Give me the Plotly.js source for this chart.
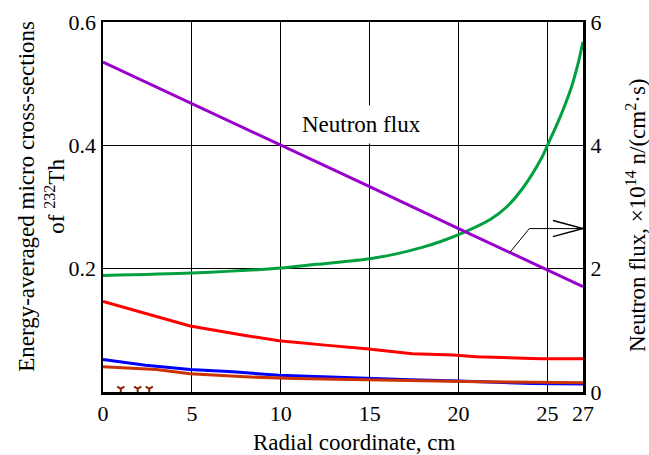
<!DOCTYPE html>
<html>
<head>
<meta charset="utf-8">
<script src="https://cdn.plot.ly/plotly-3.0.1.min.js"></script>
<style>html,body{margin:0;padding:0;background:#fff;}#chart{width:649px;height:455px;}</style>
</head>
<body>
<div id="chart"></div>
<script>
// X tick labels
var xTicks = [0, 5, 10, 15, 20, 25, 27];
var yTicks = [0, 0.2, 0.4, 0.6];
var y2Ticks = [0, 2, 4, 6];

// Green curve (left axis)
var greenX = [0, 5, 10, 12, 15, 16.5, 18, 19, 20.4, 21.8, 22.7, 23.6, 24.7, 25.0, 25.7, 26.3, 26.7, 27];
var greenY = [0.189, 0.193, 0.201, 0.207, 0.216, 0.224, 0.235, 0.244, 0.260, 0.280, 0.300, 0.330, 0.381, 0.400, 0.445, 0.490, 0.530, 0.568];

// Neutron flux (purple, right axis, x1e14 n/(cm2 s))
var fluxX = [0, 5, 10, 15, 20, 25, 27];
var fluxY = [5.35, 4.68, 4.00, 3.33, 2.65, 1.98, 1.71];

// Red curve
var redX = [0, 2.4, 4.9, 7.5, 9.9, 12.5, 14.8, 17.4, 19.7, 21, 24.6, 27];
var redY = [0.147, 0.127, 0.107, 0.094, 0.083, 0.076, 0.070, 0.062, 0.060, 0.057, 0.054, 0.054];

// Blue curve
var blueX = [0, 2.4, 4.9, 7.3, 9.9, 12, 14.6, 17.3, 20, 24.1, 27];
var blueY = [0.0526, 0.0434, 0.0364, 0.0327, 0.0272, 0.025, 0.023, 0.020, 0.018, 0.0138, 0.013];

// Orange curve
var orangeX = [0, 3, 4.9, 8, 10.8, 15.6, 21.2, 27];
var orangeY = [0.0408, 0.0364, 0.0295, 0.0246, 0.0219, 0.019, 0.0165, 0.0149];

// Small marks near zero
var markX = [1.0, 1.95, 2.6];
var markY = [0.005, 0.005, 0.005];

var serif = 'Liberation Serif';

var traces = [
  {x: redX, y: redY, mode: 'lines', line: {color: '#ff0000', width: 3}, hoverinfo: 'none'},
  {x: blueX, y: blueY, mode: 'lines', line: {color: '#0000ff', width: 3}, hoverinfo: 'none'},
  {x: orangeX, y: orangeY, mode: 'lines', line: {color: '#cc3300', width: 3}, hoverinfo: 'none'},
  {x: greenX, y: greenY, mode: 'lines', line: {color: '#00a040', width: 3, shape: 'spline', smoothing: 0.8}, hoverinfo: 'none'},
  {x: fluxX, y: fluxY, yaxis: 'y2', mode: 'lines', line: {color: '#9900cc', width: 3}, hoverinfo: 'none'},
  {x: markX, y: markY, mode: 'markers', marker: {symbol: 'y-down-open', size: 6, color: '#8b2000', line: {color: '#8b2000', width: 2}}, hoverinfo: 'none'}
];

var layout = {
  width: 649, height: 455,
  margin: {l: 103, r: 66, t: 22, b: 63},
  paper_bgcolor: '#ffffff', plot_bgcolor: '#ffffff',
  showlegend: false,
  font: {family: serif, size: 21, color: '#000'},
  xaxis: {
    range: [0, 27], tickvals: xTicks, ticktext: xTicks.map(String),
    showgrid: true, gridcolor: '#000', gridwidth: 1,
    showline: true, linecolor: '#000', linewidth: 2.5, mirror: true,
    ticks: '', zeroline: false, tickfont: {family: serif, size: 22, color: '#000'}
  },
  yaxis: {
    range: [0, 0.6], tickvals: yTicks, ticktext: ['', '0.2', '0.4', '0.6'],
    showgrid: true, gridcolor: '#000', gridwidth: 1,
    showline: true, linecolor: '#000', linewidth: 2.5,
    ticks: '', zeroline: false, tickfont: {family: serif, size: 22, color: '#000'}
  },
  yaxis2: {
    overlaying: 'y', side: 'right', range: [0, 6], tickvals: y2Ticks, ticktext: y2Ticks.map(String),
    showgrid: false, showline: true, linecolor: '#000', linewidth: 3,
    ticks: '', zeroline: false, tickfont: {family: serif, size: 22, color: '#000'}
  },
  shapes: [
    {type: 'line', xref: 'x', yref: 'y2', x0: 22.89, y0: 2.264, x1: 23.98, y1: 2.65, line: {color: '#000', width: 1}},
    {type: 'line', xref: 'x', yref: 'y2', x0: 23.98, y0: 2.65, x1: 27, y1: 2.65, line: {color: '#000', width: 1}},
    {type: 'line', xref: 'x', yref: 'y2', x0: 25.31, y0: 2.78, x1: 27, y1: 2.65, line: {color: '#000', width: 1.5}},
    {type: 'line', xref: 'x', yref: 'y2', x0: 25.31, y0: 2.52, x1: 27, y1: 2.65, line: {color: '#000', width: 1.5}}
  ],
  annotations: [
    {text: 'Neutron flux', xref: 'x', yref: 'y', x: 14.54, y: 0.433, showarrow: false,
     font: {family: serif, size: 23, color: '#000'}, bgcolor: '#ffffff', borderpad: 6, xanchor: 'center', yanchor: 'middle'},
    {text: 'Energy-averaged micro cross-sections<br>of <sup>232</sup>Th', xref: 'paper', yref: 'paper',
     x: -0.128, y: 0.529, textangle: -90, showarrow: false, xanchor: 'center', yanchor: 'middle',
     font: {family: serif, size: 23, color: '#000'}},
    {text: 'Neutron flux, \u00d710<sup>14</sup> n/(cm<sup>2</sup>\u00b7s)', xref: 'paper', yref: 'paper',
     x: 1.110, y: 0.478, textangle: -90, showarrow: false, xanchor: 'center', yanchor: 'middle',
     font: {family: serif, size: 23, color: '#000'}},
    {text: 'Radial coordinate, cm', xref: 'paper', yref: 'paper', x: 0.523, y: -0.136,
     showarrow: false, xanchor: 'center', yanchor: 'middle', font: {family: serif, size: 23, color: '#000'}}
  ]
};

Plotly.newPlot('chart', traces, layout, {staticPlot: true, displayModeBar: false});
</script>
</body>
</html>
